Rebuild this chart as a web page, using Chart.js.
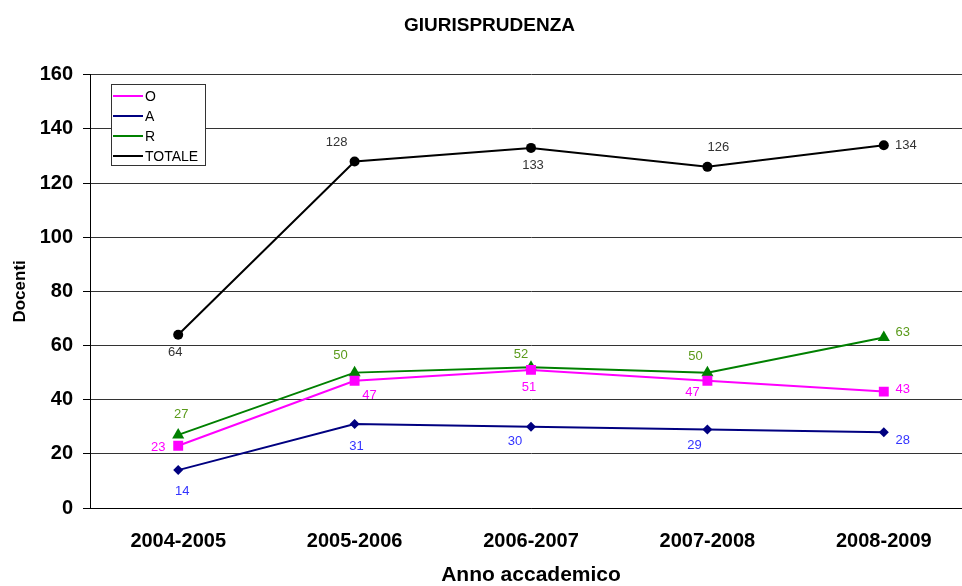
<!DOCTYPE html>
<html>
<head>
<meta charset="utf-8">
<script src="https://cdn.jsdelivr.net/npm/chart.js@4/dist/chart.umd.min.js"></script>
<style>
  html, body { margin: 0; padding: 0; background: #fff; overflow: hidden; }
  #wrap { width: 979px; height: 586px; }
</style>
</head>
<body>
<div id="wrap"><canvas id="chart" width="979" height="586"></canvas></div>
<script>
const years = ['2004-2005', '2005-2006', '2006-2007', '2007-2008', '2008-2009'];
const valuesO = [23, 47, 51, 47, 43];
const valuesA = [14, 31, 30, 29, 28];
const valuesR = [27, 50, 52, 50, 63];
const valuesTotale = [64, 128, 133, 126, 134];
const yTicks = [0, 20, 40, 60, 80, 100, 120, 140, 160];

// where each value label sits relative to its point [dx, dy]
const labelOffsets = {
  O: [[-20, 2], [15, 15], [-2, 18], [-15, 12], [19, -2]],
  A: [[4, 21], [2, 22], [-16, 15], [-13, 16], [19, 8]],
  R: [[3, -20], [-14, -17], [-10, -13], [-12, -16], [19, -5]],
  TOTALE: [[-3, 18], [-18, -19], [2, 18], [11, -19], [22, 0]]
};
const labelColors = ['#ff00ff', '#3333ff', '#5a9a1a', '#333333'];

const fontFamily = '"Liberation Sans", Arial, sans-serif';

const valueLabels = {
  id: 'valueLabels',
  afterDatasetsDraw(chart) {
    const ctx = chart.ctx;
    ctx.save();
    ctx.font = '13px ' + fontFamily;
    ctx.textAlign = 'center';
    ctx.textBaseline = 'middle';
    chart.data.datasets.forEach((ds, i) => {
      const meta = chart.getDatasetMeta(i);
      const offs = labelOffsets[ds.label];
      ctx.fillStyle = labelColors[i];
      meta.data.forEach((pt, j) => {
        ctx.fillText(String(ds.data[j]), pt.x + offs[j][0], pt.y + offs[j][1]);
      });
    });
    ctx.restore();
  }
};

const boxLegend = {
  id: 'boxLegend',
  afterDraw(chart) {
    const ctx = chart.ctx;
    const x0 = 111, y0 = 84, w = 94, h = 81;
    ctx.save();
    ctx.fillStyle = '#fff';
    ctx.fillRect(x0, y0, w, h);
    ctx.strokeStyle = '#333';
    ctx.lineWidth = 1;
    ctx.strokeRect(x0 + 0.5, y0 + 0.5, w, h);
    ctx.font = '14px ' + fontFamily;
    ctx.textBaseline = 'middle';
    chart.data.datasets.forEach((ds, i) => {
      const cy = 96 + i * 20;
      ctx.strokeStyle = ds.borderColor;
      ctx.lineWidth = 2;
      ctx.beginPath();
      ctx.moveTo(113, cy);
      ctx.lineTo(143, cy);
      ctx.stroke();
      ctx.fillStyle = ds.backgroundColor;
      Chart.helpers.drawPoint(ctx, {
        pointStyle: ds.pointStyle,
        rotation: 0,
        borderWidth: 0
      }, 128, cy);
      ctx.fill();
      ctx.fillStyle = '#000';
      ctx.fillText(ds.label, 145, cy + 1);
    });
    ctx.restore();
  }
};

function series(label, data, color, style, radius) {
  return {
    label: label,
    data: data,
    borderColor: color,
    backgroundColor: color,
    borderWidth: 2,
    pointStyle: style,
    pointRadius: radius,
    pointHoverRadius: radius,
    pointBorderWidth: 0,
    tension: 0
  };
}

new Chart(document.getElementById('chart'), {
  type: 'line',
  data: {
    labels: years,
    datasets: [
      series('O', valuesO, '#ff00ff', 'rect', 7),
      series('A', valuesA, '#000080', 'rectRot', 5),
      series('R', valuesR, '#008000', 'triangle', 7),
      series('TOTALE', valuesTotale, '#000000', 'circle', 5)
    ]
  },
  options: {
    responsive: false,
    animation: false,
    layout: { padding: 0 },
    plugins: {
      legend: { display: false },
      tooltip: { enabled: false },
      title: {
        display: true,
        text: 'GIURISPRUDENZA',
        color: '#000',
        font: { family: fontFamily, size: 19, weight: 'bold' },
        padding: { top: 14, bottom: 38 }
      }
    },
    scales: {
      x: {
        offset: true,
        grid: { display: false, drawTicks: false },
        border: { color: '#000', width: 1 },
        ticks: {
          color: '#000',
          padding: 21,
          font: { family: fontFamily, size: 20, weight: 'bold' },
          maxRotation: 0
        },
        title: {
          display: true,
          text: 'Anno accademico',
          color: '#000',
          font: { family: fontFamily, size: 21, weight: 'bold', lineHeight: 1 },
          padding: 0
        },
        afterFit(scale) { scale.height = 78; }
      },
      y: {
        min: 0,
        max: 160,
        afterBuildTicks(scale) { scale.ticks = yTicks.map(v => ({ value: v })); },
        grid: { color: '#333', lineWidth: 1, tickLength: 7, tickColor: '#000' },
        border: { color: '#000', width: 1 },
        ticks: {
          color: '#000',
          padding: 10,
          font: { family: fontFamily, size: 20, weight: 'bold' }
        },
        title: {
          display: true,
          text: 'Docenti',
          color: '#000',
          font: { family: fontFamily, size: 17, weight: 'bold' },
          padding: { top: 10 }
        },
        afterFit(scale) { scale.width = 90; }
      }
    }
  },
  plugins: [valueLabels, boxLegend]
});
</script>
</body>
</html>
